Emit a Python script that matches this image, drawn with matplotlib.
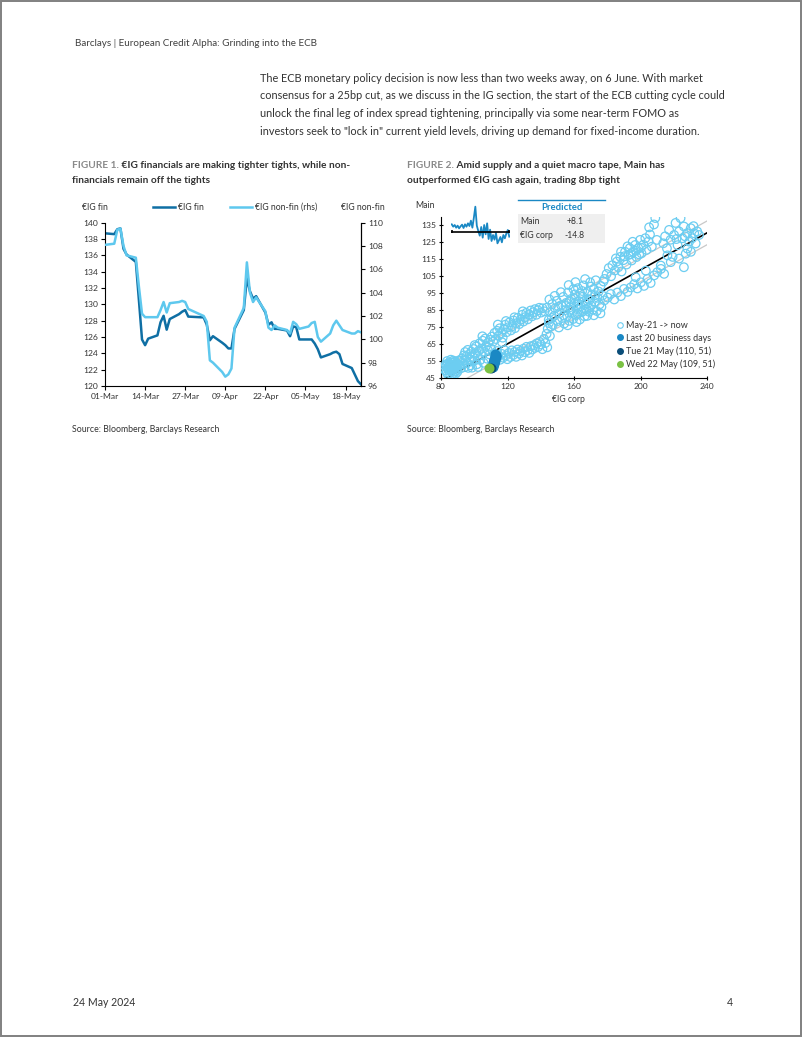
import numpy as np
import pandas as pd
import matplotlib.pyplot as plt
from matplotlib.patches import Rectangle
from matplotlib.lines import Line2D

plt.rcParams['font.family'] = ['Lato', 'DejaVu Sans']

# ---- Figure 1 data: daily spreads (bp), Mar-May 2024, Good Friday / Easter Monday missing
fin = [138.7, 138.6, 139.2, 139.3, 136.8, 136.1, 135.2, 130.5, 125.7, 125.0,
       125.8, 126.2, 127.8, 128.6, 126.9, 128.2, 128.8, 129.1, 129.3, 128.5,
       128.4, 127.5, 125.6, 126.1, 125.3, 125.0, 124.6, 124.6, 127.0, 129.3,
       133.2, 131.6, 130.7, 131.0, 129.0, 127.5, 127.8, 127.0, 127.0, 126.8,
       126.1, 127.3, 127.2, 125.7, 125.7, 125.7, 125.2, 124.5, 123.5, 123.9,
       124.1, 124.2, 123.9, 122.7, 122.2, 121.4, 120.6, 120.2]
nonfin = [108.1, 108.2, 109.4, 109.5, 108.0, 107.2, 107.0, 104.5, 102.2, 101.9,
          101.9, 101.9, 102.5, 103.2, 102.3, 103.1, 103.2, 103.3, 103.2, 102.6,
          102.0, 101.5, 98.2, 98.0, 97.2, 96.8, 97.0, 97.5, 101.0, 102.7,
          106.6, 104.0, 103.2, 103.6, 102.4, 101.0, 100.8, 101.2, 101.0, 100.8,
          100.5, 101.5, 101.3, 100.9, 101.1, 101.4, 101.5, 100.2, 99.8, 100.5,
          101.2, 101.6, 101.2, 100.8, 100.5, 100.5, 100.7, 100.6]
holidays = ['2024-03-29', '2024-04-01']
date_ticks = ['01-Mar', '14-Mar', '27-Mar', '09-Apr', '22-Apr', '05-May', '18-May']

# ---- Figure 2 data: (€IG corp, Main) since May-21
hist = [
    # 2021 tights
    (82.6, 49.3), (83.1, 51.8), (83.4, 48.1), (83.8, 50.6), (84.2, 53.2), (84.5, 49.5),
    (84.9, 51.4), (85.2, 47.6), (85.4, 54.1), (85.7, 50.2), (86.1, 52.7), (86.3, 48.8),
    (86.6, 51.1), (86.9, 53.9), (87.2, 49.7), (87.5, 52.1), (87.8, 47.9), (88.1, 50.8),
    (88.4, 54.6), (88.7, 52.3), (89.0, 49.1), (89.3, 51.6), (89.6, 53.5), (90.0, 50.3),
    (90.4, 52.8), (90.8, 55.2), (83.7, 54.8), (85.9, 55.6), (84.1, 46.9), (86.8, 46.8),
    (88.9, 47.4), (82.9, 52.9), (87.4, 55.1), (85.1, 52.2), (86.4, 50.1), (87.9, 51.9),
    (84.6, 50.7), (89.8, 48.4),
    (91.2, 52.4), (91.6, 54.9), (92.1, 50.6), (92.7, 56.3), (93.2, 53.1), (93.8, 58.2),
    (94.1, 51.2), (94.6, 55.4), (95.2, 57.7), (95.7, 53.6), (96.1, 61.4), (96.4, 50.8),
    (96.9, 55.8), (97.3, 58.9), (97.8, 52.3), (98.2, 60.4), (98.6, 54.7), (99.1, 57.2),
    (99.6, 61.9), (100.2, 55.1), (100.7, 59.3), (101.1, 63.4), (101.6, 52.9), (102.1, 57.6),
    (102.7, 60.9), (103.2, 65.3), (103.6, 55.4), (104.2, 62.1), (104.7, 58.3), (105.1, 66.8),
    (105.6, 53.8), (106.2, 60.2), (106.6, 68.1), (107.1, 63.7), (107.7, 56.2), (108.2, 61.3),
    (108.6, 65.8), (109.2, 58.7), (109.6, 67.3), (110.1, 62.2), (100.3, 64.2), (98.7, 50.9),
    (102.2, 51.3), (94.5, 60.1), (104.9, 69.4),
    # upper branch
    (110.6, 69.2), (111.4, 66.3), (112.2, 71.4), (112.9, 67.8), (113.8, 72.6), (114.6, 69.7),
    (115.3, 74.1), (116.2, 71.2), (117.1, 68.6), (117.8, 73.4), (118.6, 76.2), (119.5, 71.8),
    (120.3, 74.7), (121.2, 77.6), (122.1, 72.9), (122.8, 75.3), (123.7, 78.7), (124.5, 74.2),
    (125.4, 77.1), (126.2, 80.3), (127.1, 76.6), (127.9, 79.2), (128.8, 82.1), (129.6, 78.1),
    (130.5, 80.7), (131.3, 83.2), (132.2, 79.4), (133.1, 82.3), (133.9, 84.6), (134.8, 81.2),
    (135.6, 83.6), (136.5, 85.4), (137.4, 82.1), (138.3, 84.7), (139.1, 86.2), (140.2, 83.4),
    (141.1, 85.9), (142.3, 84.1), (114.2, 76.3), (119.1, 78.4), (124.2, 80.6), (129.2, 84.1),
    (116.7, 65.9),
    # lower branch
    (112.1, 59.3), (112.8, 56.2), (113.7, 60.7), (114.5, 57.4), (115.6, 55.6), (116.4, 59.1),
    (117.3, 56.8), (118.2, 61.2), (119.1, 58.1), (119.9, 55.9), (120.8, 59.6), (121.7, 57.2),
    (122.6, 61.1), (123.5, 58.4), (124.3, 60.2), (125.2, 57.3), (126.1, 61.6), (127.0, 59.2),
    (127.8, 60.7), (128.7, 58.1), (129.6, 62.1), (130.5, 60.1), (131.4, 63.2), (132.2, 61.2),
    (133.1, 59.6), (134.0, 63.6), (134.9, 61.6), (135.8, 64.1), (136.6, 62.6), (137.5, 65.2),
    (138.4, 63.1), (139.3, 66.1), (140.1, 64.6), (141.0, 61.8), (141.9, 67.9), (142.8, 65.4),
    (143.5, 70.8), (144.2, 73.9), (144.9, 77.2), (145.5, 69.6), (146.1, 75.3), (146.7, 80.2),
    (143.9, 62.9),
    # central mass
    (143.5, 86.2), (144.8, 79.1), (145.6, 83.7), (146.9, 88.4), (147.3, 76.2), (148.1, 81.5),
    (148.7, 85.9), (149.6, 90.3), (150.2, 78.4), (150.9, 74.6), (151.4, 83.1), (152.3, 87.7),
    (152.8, 80.2), (153.5, 92.6), (154.1, 76.9), (154.6, 84.8), (155.3, 89.1), (155.9, 81.3),
    (156.4, 95.2), (157.2, 78.5), (157.7, 86.6), (158.3, 91.4), (158.9, 83.2), (159.5, 79.6),
    (160.1, 88.7), (160.6, 94.1), (161.2, 81.9), (161.8, 85.4), (162.4, 97.8), (162.9, 90.2),
    (163.5, 79.3), (164.1, 87.1), (164.6, 83.6), (165.2, 92.7), (165.8, 99.4), (166.3, 81.2),
    (166.9, 88.9), (167.4, 85.2), (168.0, 95.6), (168.6, 91.3), (169.1, 83.8), (169.7, 101.2),
    (170.3, 87.4), (170.8, 93.9), (171.4, 85.1), (172.0, 97.3), (172.5, 89.6), (173.1, 102.4),
    (173.7, 84.3), (174.2, 92.1), (174.8, 95.8), (175.4, 88.2), (176.0, 99.1), (176.5, 86.7),
    (177.1, 93.4), (177.7, 101.7), (178.3, 90.6), (156.8, 99.6), (160.9, 101.3), (166.7, 103.1),
    (152.1, 95.4), (148.4, 93.2), (145.2, 91.1), (154.9, 87.3), (158.2, 84.9), (162.1, 82.7),
    (163.8, 94.6), (167.9, 81.4), (171.9, 81.8), (175.9, 82.9), (161.5, 77.8), (156.2, 75.9),
    (159.7, 97.2), (164.9, 96.1), (170.1, 98.7), (168.9, 86.3), (162.7, 88.5), (157.1, 89.8),
    (153.7, 81.6), (150.6, 86.9), (165.5, 84.3), (169.4, 90.8), (172.8, 93.6), (160.4, 91.7),
    (166.1, 90.1),
    # 2022 wides
    (178.4, 103.2), (179.6, 106.1), (180.9, 109.6), (182.3, 104.8), (183.1, 111.3),
    (184.6, 108.2), (185.8, 113.4), (186.7, 110.1), (187.9, 116.2), (188.6, 107.6),
    (189.8, 114.3), (190.7, 119.2), (191.6, 111.7), (192.8, 117.3), (193.6, 121.4),
    (194.7, 114.1), (195.5, 119.3), (196.8, 123.2), (197.6, 116.1), (198.7, 121.3),
    (199.8, 126.2), (200.6, 118.3), (201.7, 123.4), (202.9, 127.2), (203.6, 120.3),
    (204.8, 125.3), (205.7, 129.4), (206.8, 122.2), (208.1, 135.3), (208.9, 139.1),
    (205.2, 133.6), (209.8, 126.2), (195.3, 125.1), (192.2, 122.4), (199.2, 117.6),
    (185.2, 115.3), (188.3, 119.2), (194.1, 117.8), (197.2, 119.8), (200.3, 121.6),
    (190.4, 116.6),
    (213.7, 124.2), (214.8, 128.3), (215.9, 121.2), (217.2, 132.1), (218.1, 126.3),
    (219.3, 116.2), (220.2, 129.1), (221.1, 136.2), (222.3, 123.1), (223.2, 131.2),
    (224.1, 139.0), (225.2, 127.2), (226.1, 134.1), (227.2, 118.1), (228.1, 130.2),
    (229.3, 125.2), (230.2, 133.1), (231.1, 127.2), (232.3, 130.1), (233.2, 124.1),
    (234.1, 131.2), (235.2, 129.1), (218.2, 113.1), (223.2, 115.2), (226.1, 110.1),
    (212.2, 111.1), (216.2, 117.1), (228.2, 121.1), (230.3, 119.2), (221.6, 126.7),
    (226.8, 128.3), (231.9, 134.3),
    (180.3, 92.2), (182.1, 94.3), (184.2, 91.1), (186.1, 95.2), (188.2, 93.1), (190.1, 97.3),
    (192.2, 95.6), (194.1, 98.2), (196.2, 100.1), (198.1, 97.6), (200.2, 101.2), (202.1, 99.1),
    (204.2, 103.2), (206.1, 100.8), (208.2, 105.3), (210.1, 107.2), (212.3, 109.1),
    (214.2, 106.2), (197.1, 104.2), (203.2, 108.1),
]
last20 = [(111, 51.5), (111.5, 53), (112, 54.5), (112, 56), (112.5, 57.5), (113, 58.5),
          (112.5, 55), (111.5, 52), (112, 53.5), (111, 52.5), (112.8, 57), (113, 58),
          (112.3, 56.5), (111.8, 55.5), (111.3, 54), (110.5, 51.5), (112, 55), (112.6, 58.8),
          (111.6, 52.8), (110.8, 51.2)]
tue = (110, 51)
wed = (109, 51)
fit_slope, fit_icpt, fit_band = 0.545, -0.45, 7.0
resid = [22, 15, 20, 12, 18, 10, 16, 21, 11, 22, 15, 25, 17, 33, 12, 42, 75, 18, 2, -12,
         14, -18, 20, -8, 25, -22, 6, -28, -10, -24, -4, -35, -26, -16, -32, -10, -20, -6,
         5, -15]

DARK = '#0f6fa4'
LIGHT = '#5ec8ee'
MID = '#1a88c4'
NAVY = '#0a4d78'
GREEN = '#7ac143'
TXT = '#333333'

W, H = 802, 1037
fig = plt.figure(figsize=(W / 100, H / 100), dpi=100)
page = fig.add_axes([0, 0, 1, 1])
page.set_xlim(0, W)
page.set_ylim(H, 0)
page.axis('off')


def box(l, t, r, b):
    a = fig.add_axes([l / W, 1 - b / H, (r - l) / W, (b - t) / H])
    a.patch.set_visible(False)
    return a


page.add_patch(Rectangle((1, 1), W - 2.5, H - 2.5, fill=False, ec='#808080', lw=1.4))
page.text(75, 44, "Barclays | European Credit Alpha: Grinding into the ECB", fontsize=7.1,
          color='#404040', va='center')
body = ["The ECB monetary policy decision is now less than two weeks away, on 6 June. With market",
        "consensus for a 25bp cut, as we discuss in the IG section, the start of the ECB cutting cycle could",
        "unlock the final leg of index spread tightening, principally via some near-term FOMO as",
        "investors seek to \"lock in\" current yield levels, driving up demand for fixed-income duration."]
for i, line in enumerate(body):
    page.text(260, 78 + i * 17.8, line, fontsize=7.85, color=TXT, va='center')


def title(x, y, num, l1, l2):
    t = page.text(x, y, "FIGURE %d." % num, fontsize=7.3, color='#8a8a8a', fontweight='bold', va='center')
    page.annotate(" " + l1, xy=(1, 0.5), xycoords=t, fontsize=7.3, fontweight='bold',
                  color=TXT, va='center')
    page.text(x, y + 14.5, l2, fontsize=7.3, fontweight='bold', color=TXT, va='center')


title(72, 166, 1, "€IG financials are making tighter tights, while non-", "financials remain off the tights")
title(407, 166, 2, "Amid supply and a quiet macro tape, Main has", "outperformed €IG cash again, trading 8bp tight")

for x in (72, 407):
    page.text(x, 429, "Source: Bloomberg, Barclays Research", fontsize=6.3, color=TXT, va='center')
page.text(73, 1003, "24 May 2024", fontsize=7.6, color=TXT, va='center')
page.text(727, 1003, "4", fontsize=7.6, color=TXT, va='center')

# ---------------- Figure 1
dates = pd.bdate_range('2024-03-01', '2024-05-23').drop(pd.to_datetime(holidays))
ax1 = box(105, 222.7, 361, 386)
ax1.plot(dates, fin, color=DARK, lw=1.8)
ax1.set_ylim(120, 140)
ax1.set_yticks(range(120, 141, 2))
ax1.set_xlim(pd.Timestamp('2024-03-01'), pd.Timestamp('2024-05-23'))
ax1.set_xticks(pd.date_range('2024-03-01', periods=7, freq='13D'))
ax1.set_xticklabels(date_ticks)
ax2 = ax1.twinx()
ax2.plot(dates, nonfin, color=LIGHT, lw=1.8)
ax2.set_ylim(96, 110)
ax2.set_yticks(range(96, 111, 2))
for a in (ax1, ax2):
    a.spines['top'].set_visible(False)
    for s in a.spines.values():
        s.set_linewidth(0.8)
    a.tick_params(labelsize=6.1, length=3, width=0.8, pad=2, colors='black', labelcolor=TXT)
ax2.spines['left'].set_visible(False)
ax2.spines['bottom'].set_visible(False)

page.text(82, 207, "€IG fin", fontsize=6.2, color=TXT, va='center')
page.text(385, 207, "€IG non-fin", fontsize=6.2, color=TXT, va='center', ha='right')
page.plot([153, 175], [207, 207], color=DARK, lw=1.8)
page.text(178, 207, "€IG fin", fontsize=6.2, color=TXT, va='center')
page.plot([230, 252], [207, 207], color=LIGHT, lw=1.8)
page.text(255, 207, "€IG non-fin (rhs)", fontsize=6.2, color=TXT, va='center')

# ---------------- Figure 2
page.plot([518, 605], [199.5, 199.5], color=MID, lw=1.0)
page.text(561.5, 207.5, "Predicted", fontsize=6.8, fontweight='bold', color=MID, ha='center', va='center')
page.add_patch(Rectangle((518, 214), 87, 29, color='#efefef', lw=0))
page.text(520.5, 221.7, "Main", fontsize=6.2, color=TXT, va='center')
page.text(575, 221.7, "+8.1", fontsize=6.2, color=TXT, va='center', ha='center')
page.text(520.5, 235.7, "€IG corp", fontsize=6.2, color=TXT, va='center')
page.text(575, 235.7, "-14.8", fontsize=6.2, color=TXT, va='center', ha='center')

ax = box(441, 216.5, 707, 377.7)
xs = np.array([80, 240])
ax.plot(xs, fit_slope * xs + fit_icpt + fit_band, color='#c8c8c8', lw=0.9, zorder=1)
ax.plot(xs, fit_slope * xs + fit_icpt - fit_band, color='#c8c8c8', lw=0.9, zorder=1)
ax.plot(xs, fit_slope * xs + fit_icpt, color='black', lw=1.2, zorder=2)
hx, hy = zip(*hist)
ax.scatter(hx, hy, s=38, facecolors='none', edgecolors='#6ccdf1', linewidths=0.9, zorder=3)
lx, ly = zip(*last20)
ax.scatter(lx, ly, s=38, color=MID, zorder=4)
ax.scatter([tue[0]], [tue[1]], s=38, color=NAVY, zorder=5)
ax.scatter([wed[0]], [wed[1]], s=38, color=GREEN, zorder=6)
ax.set_xlim(80, 240)
ax.set_ylim(45, 140)
ax.set_xticks(range(80, 241, 40))
ax.set_yticks(range(45, 136, 10))
ax.spines['top'].set_visible(False)
ax.spines['right'].set_visible(False)
for s in ax.spines.values():
    s.set_linewidth(0.8)
ax.tick_params(labelsize=6.1, length=3, width=0.8, pad=2, labelcolor=TXT, direction='inout')
page.text(425, 205, "Main", fontsize=6.2, color=TXT, va='center', ha='center')
page.text(568, 400, "€IG corp", fontsize=6.2, color=TXT, va='center', ha='center')

handles = [
    Line2D([], [], ls='none', marker='o', ms=4, mfc='white', mec='#6ccdf1', mew=0.8),
    Line2D([], [], ls='none', marker='o', ms=4, color=MID),
    Line2D([], [], ls='none', marker='o', ms=4, color=NAVY),
    Line2D([], [], ls='none', marker='o', ms=4, color=GREEN),
]
labels = ["May-21 -> now", "Last 20 business days", "Tue 21 May (110, 51)", "Wed 22 May (109, 51)"]
ax.legend(handles, labels, loc='upper left', bbox_to_anchor=(617 / W, 1 - 321 / H),
          bbox_transform=fig.transFigure, frameon=False, fontsize=6.5, handlelength=0.6,
          handletextpad=0.4, labelspacing=0.4, borderpad=0, borderaxespad=0, labelcolor=TXT)

axi = box(451, 205, 510, 246)
axi.plot(range(len(resid)), resid, color=MID, lw=1.3)
axi.axhline(0, color='black', lw=1.2)
axi.vlines([0, len(resid) - 1], -4, 6, color='black', lw=1.2)
axi.set_xlim(-0.5, len(resid) - 0.5)
axi.set_ylim(-43, 80)
axi.axis('off')

fig.savefig('out.png', dpi=100, facecolor='white')
